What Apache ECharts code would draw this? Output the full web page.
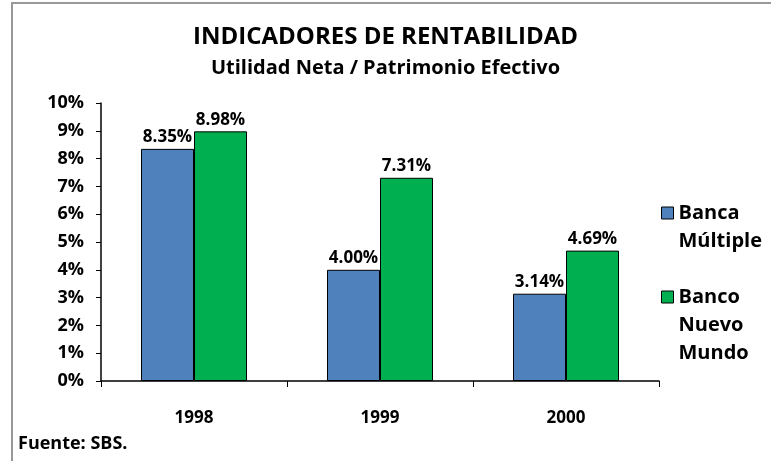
<!DOCTYPE html>
<html lang="es">
<head>
    <meta charset="UTF-8">
    <title>Indicadores de Rentabilidad</title>
    <script src="https://cdn.jsdelivr.net/npm/echarts@6/dist/echarts.min.js"></script>
    <style>
        html, body { margin: 0; padding: 0; background: #fff; }
        #chart { width: 771px; height: 461px; }
    </style>
</head>
<body>
    <div id="chart"></div>
    <script>
        // datos del grafico
        var years = ['1998', '1999', '2000'];
        var bancaMultiple = [8.35, 4.00, 3.14];
        var bancoNuevoMundo = [8.98, 7.31, 4.69];
        var seriesNames = ['Banca\nMúltiple', 'Banco\nNuevo\nMundo'];

        var font = '"Liberation Sans Narrow", "Open Sans", sans-serif';
        var myChart = echarts.init(document.getElementById('chart'));

        var labelStyle = {
            show: true,
            position: 'top',
            distance: 3,
            fontFamily: font,
            fontWeight: 'bold',
            fontSize: 17,
            color: '#000',
            formatter: function (p) { return p.value.toFixed(2) + '%'; }
        };

        // lineas vacias arriba para que el icono quede junto a la primera linea
        function legendText(name) {
            var n = name.split('\n').length;
            return new Array(n).join('\n') + name;
        }

        var option = {
            animation: false,
            title: {
                text: 'INDICADORES DE RENTABILIDAD',
                subtext: 'Utilidad Neta / Patrimonio Efectivo',
                left: 'center',
                top: 20,
                itemGap: 9,
                textStyle: { fontFamily: font, fontWeight: 'bold', fontSize: 24, color: '#000' },
                subtextStyle: { fontFamily: font, fontWeight: 'bold', fontSize: 20, color: '#000' }
            },
            legend: {
                orient: 'vertical',
                left: 656,
                top: 166,
                icon: 'rect',
                itemWidth: 12,
                itemHeight: 12,
                itemGap: -28,
                data: seriesNames,
                formatter: legendText,
                itemStyle: { borderColor: '#000', borderWidth: 1 },
                textStyle: { fontFamily: font, fontWeight: 'bold', fontSize: 20, color: '#000', lineHeight: 28 }
            },
            grid: { left: 101, right: 112, top: 103, bottom: 80 },
            xAxis: {
                type: 'category',
                data: years,
                axisLine: { lineStyle: { color: '#000', width: 1.5 } },
                axisTick: { show: true, length: 6, lineStyle: { color: '#000' } },
                axisLabel: { margin: 29, fontFamily: font, fontWeight: 'bold', fontSize: 17, color: '#000' }
            },
            yAxis: {
                type: 'value',
                min: 0,
                max: 10,
                interval: 1,
                splitLine: { show: false },
                axisLine: { show: true, lineStyle: { color: '#000', width: 1.5 } },
                axisTick: { show: true, length: 5, lineStyle: { color: '#000' } },
                axisLabel: { margin: 17, fontFamily: font, fontWeight: 'bold', fontSize: 18, color: '#000', formatter: '{value}%' }
            },
            series: [
                {
                    name: seriesNames[0],
                    type: 'bar',
                    data: bancaMultiple,
                    barWidth: 53,
                    barGap: '0%',
                    itemStyle: { color: '#4F81BD', borderColor: '#000', borderWidth: 1 },
                    label: labelStyle
                },
                {
                    name: seriesNames[1],
                    type: 'bar',
                    data: bancoNuevoMundo,
                    barWidth: 53,
                    itemStyle: { color: '#00B050', borderColor: '#000', borderWidth: 1 },
                    label: labelStyle
                }
            ],
            graphic: [
                {
                    type: 'rect',
                    shape: { x: 12, y: 3, width: 770, height: 480 },
                    style: { fill: 'none', stroke: '#999', lineWidth: 2 }
                },
                {
                    type: 'text',
                    left: 18,
                    top: 435,
                    style: { text: 'Fuente: SBS.', fontFamily: font, fontWeight: 'bold', fontSize: 18, fill: '#000' }
                }
            ]
        };
        myChart.setOption(option);
    </script>
</body>
</html>
